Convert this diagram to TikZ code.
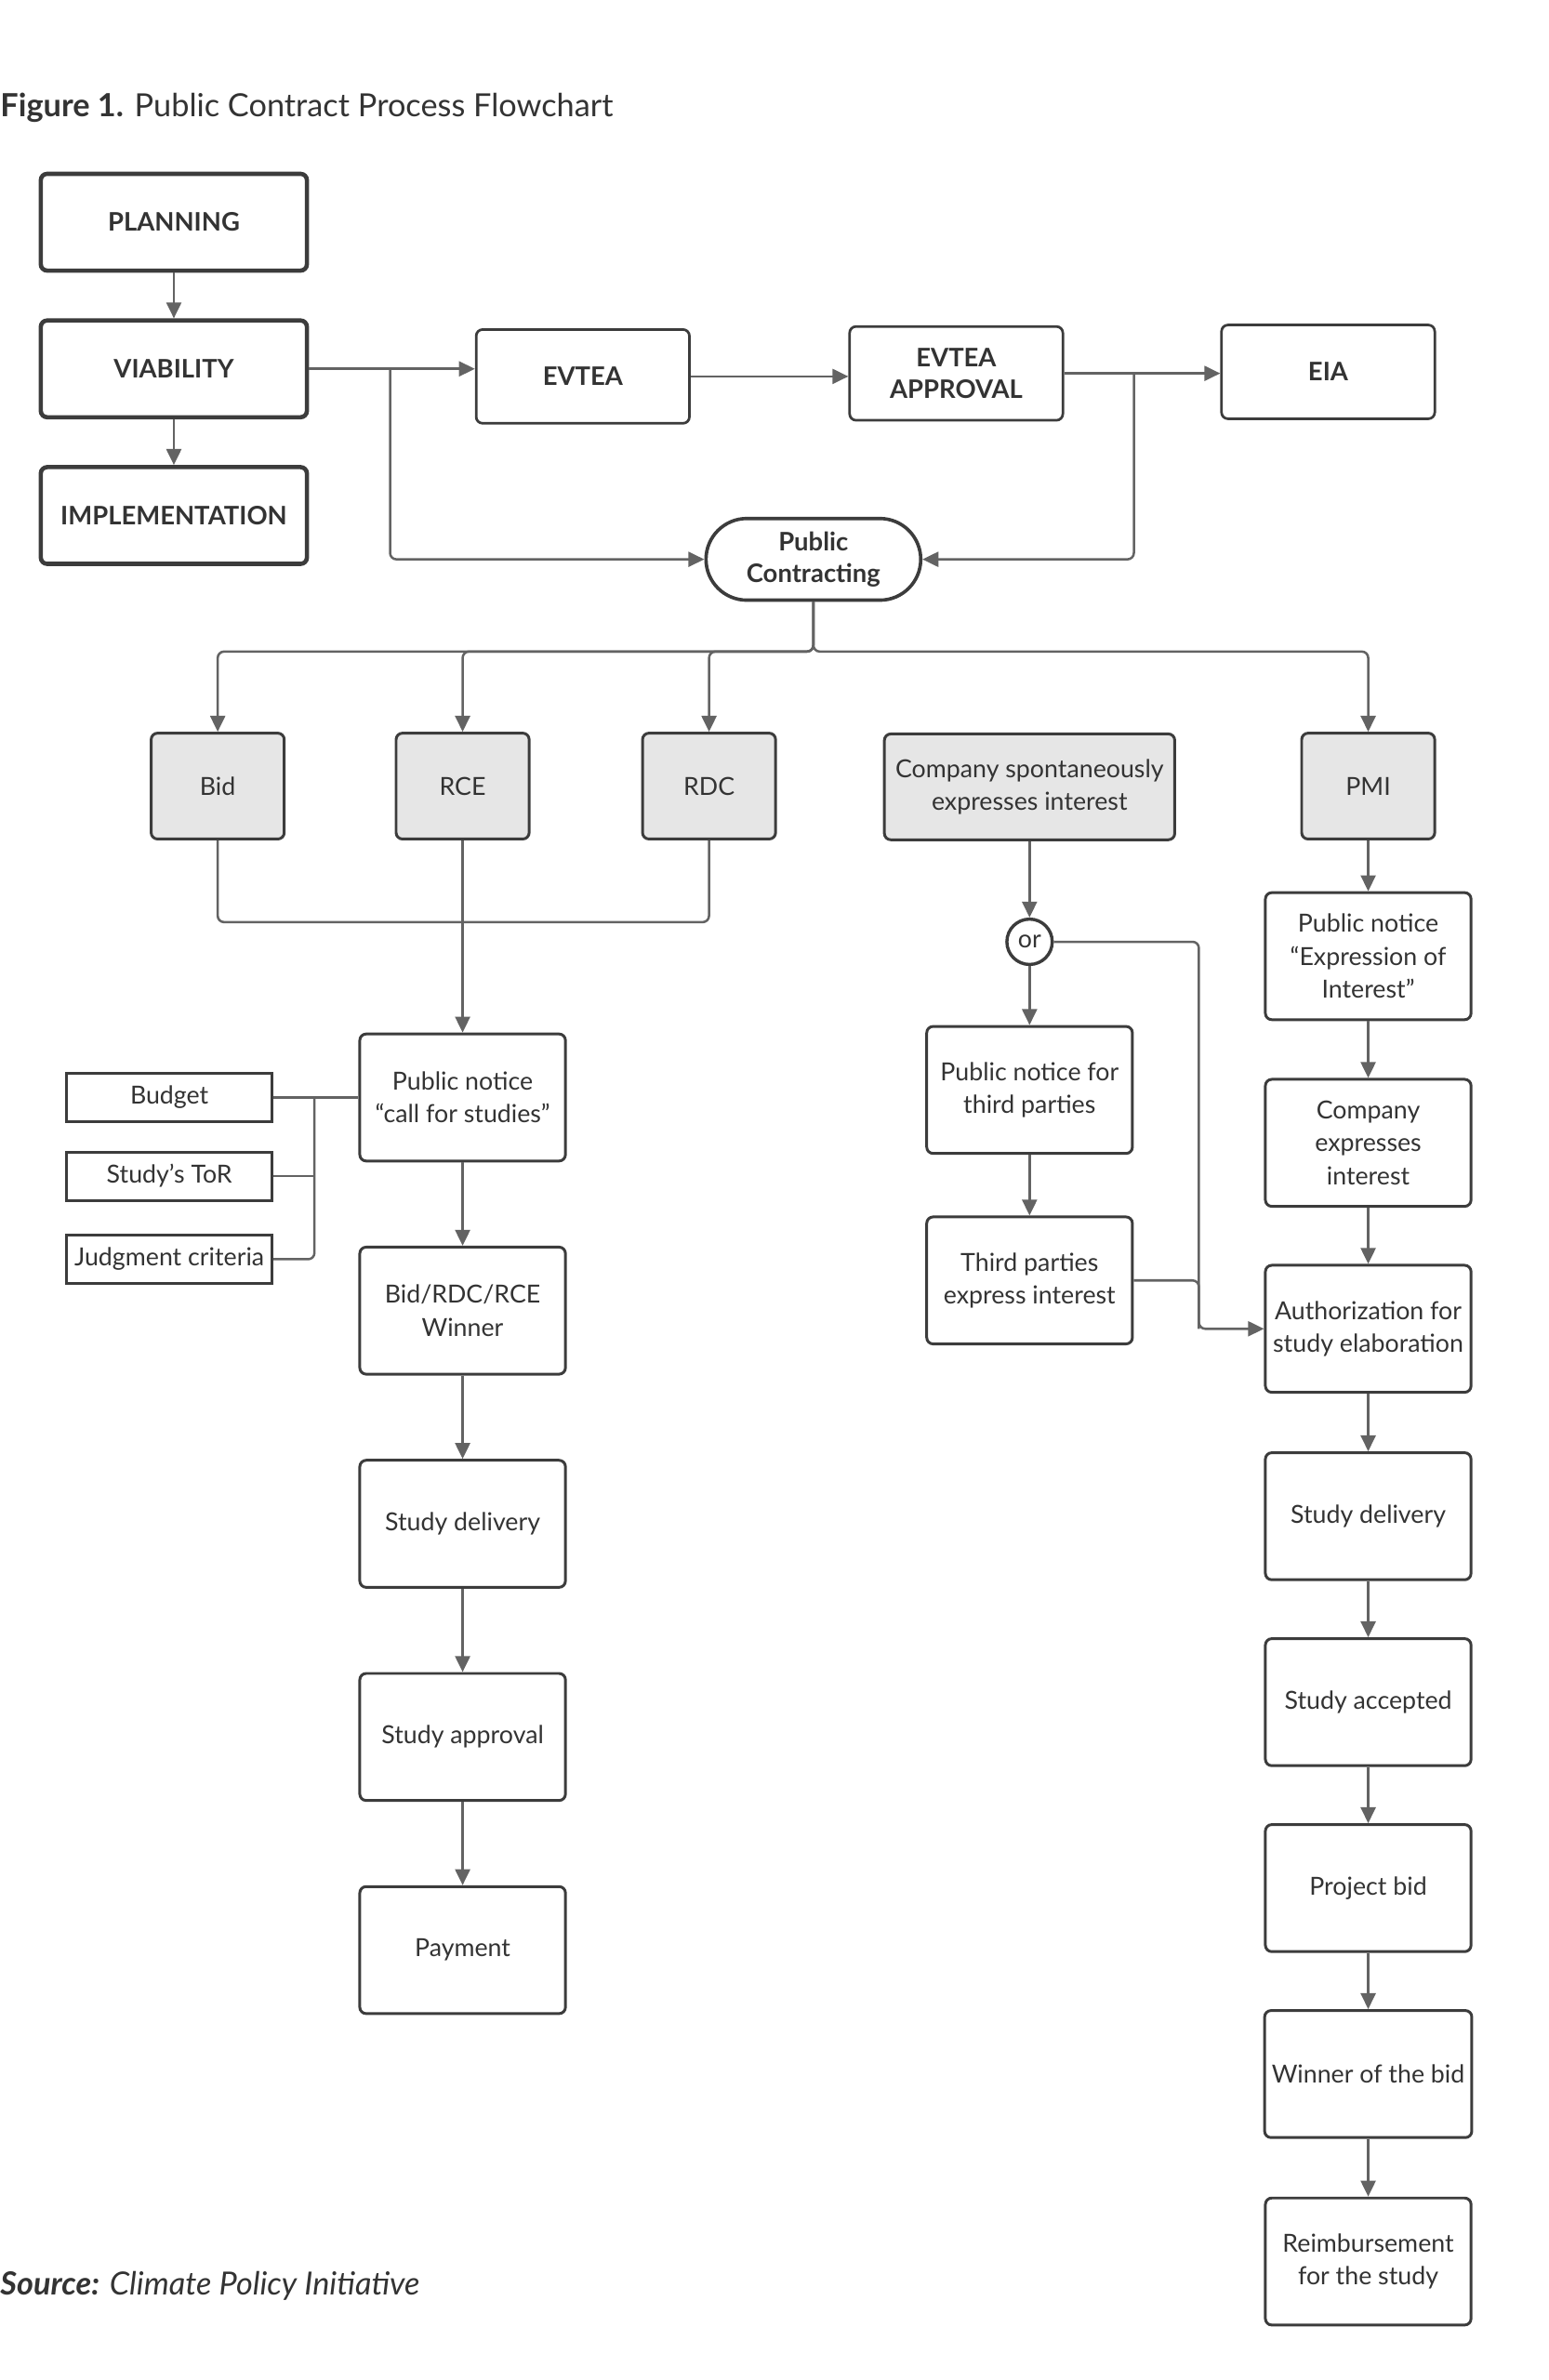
\documentclass[tikz,border=0pt]{standalone}
\usepackage{fontspec}
\setmainfont{Lato}
\usetikzlibrary{arrows.meta}
\definecolor{linegray}{HTML}{636363}
\definecolor{boxgray}{HTML}{3C3C3C}
\definecolor{fillgray}{HTML}{E6E6E6}
\definecolor{textgray}{HTML}{333333}

\begin{document}
\begin{tikzpicture}[x=0.025cm,y=-0.025cm,
  font=\fontsize{11.7}{15.5}\selectfont, text=textgray,
  phase/.style={draw=boxgray, line width=2pt, rounded corners=3pt, minimum width=4.4cm, minimum height=1.6cm, font=\fontsize{12}{15}\selectfont\bfseries},
  stage/.style={draw=boxgray, line width=1.2pt, rounded corners=3pt, minimum width=3.525cm, minimum height=1.55cm, align=center, font=\fontsize{12}{15}\selectfont\bfseries},
  route/.style={draw=boxgray, fill=fillgray, line width=1.3pt, rounded corners=3pt, minimum width=2.2cm, minimum height=1.75cm, align=center},
  stepbox/.style={draw=boxgray, line width=1.3pt, rounded corners=3pt, minimum width=3.4cm, minimum height=2.1cm, align=center},
  item/.style={draw=boxgray, line width=1.3pt, minimum width=3.4cm, minimum height=0.8cm},
  link/.style={draw=linegray, line width=1.1pt, rounded corners=3pt},
  arr/.style={link, -{Triangle[length=7.5pt,width=7pt]}}
]
\useasboundingbox (0,0) rectangle (1024,1574.4);
%\draw[step=1cm,gray,very thin] (0,0) grid (1024,1574);
\node[anchor=base west, inner sep=0, font=\fontsize{15}{18}\selectfont] (title) at (0,77) {\textbf{Figure 1.} Public Contract Process Flowchart};

% phases
\node[phase] (plan) at (115,147) {PLANNING};
\node[phase] (via) at (115,244) {VIABILITY};
\node[phase] (impl) at (115,341) {IMPLEMENTATION};
\node[stage] (evtea) at (385.5,249) {EVTEA};
\node[stage] (appr) at (632.5,247) {EVTEA\\APPROVAL};
\node[stage] (eia) at (878.5,246) {EIA};
\node[stage, line width=1.6pt, rounded corners=0.675cm, minimum width=3.55cm, minimum height=1.35cm] (pc) at (538,370) {Public\\Contracting};

% contracting routes
\node[route] (bid) at (144,520) {Bid};
\node[route] (rce) at (306,520) {RCE};
\node[route] (rdc) at (469,520) {RDC};
\node[route, minimum width=4.8cm] (spont) at (681,520.5) {Company spontaneously\\expresses interest};
\node[route] (pmi) at (905,520) {PMI};

% call for studies
\node[stepbox] (call) at (306,726) {Public notice\\“call for studies”};
\node[item] (budget) at (112,726) {Budget};
\node[item] (tor) at (112,778) {Study’s ToR};
\node[item] (crit) at (112,833) {Judgment criteria};
\node[stepbox] (win) at (306,867) {Bid/RDC/RCE\\Winner};
\node[stepbox] (deliv) at (306,1008) {Study delivery};
\node[stepbox] (approv) at (306,1149) {Study approval};
\node[stepbox] (pay) at (306,1290) {Payment};

% spontaneous interest
\node[circle, draw=boxgray, line width=1.5pt, minimum size=0.75cm, inner sep=0] (or) at (681,623) {or};
\node[stepbox] (third) at (681,721) {Public notice for\\third parties};
\node[stepbox] (tpint) at (681,847) {Third parties\\express interest};

% PMI
\node[stepbox] (eoi) at (905,632.5) {Public notice\\“Expression of\\Interest”};
\node[stepbox] (cexp) at (905,756) {Company\\expresses\\interest};
\node[stepbox] (auth) at (905,879) {Authorization for\\study elaboration};
\node[stepbox] (sdel) at (905,1003) {Study delivery};
\node[stepbox] (sacc) at (905,1126) {Study accepted};
\node[stepbox] (pbid) at (905,1249) {Project bid};
\node[stepbox] (wbid) at (905,1372) {Winner of the bid};
\node[stepbox] (reimb) at (905,1496) {Reimbursement\\for the study};

\node[anchor=base west, inner sep=0, font=\fontsize{15}{18}\selectfont\itshape] (src) at (0,1518) {\textbf{Source:} Climate Policy Initiative};

% connectors
\draw[arr] (plan) -- (via);
\draw[arr] (via) -- (impl);
\draw[arr] (via.east) -- (via.east -| evtea.west);
\draw[arr] (evtea.east) -- (evtea.east -| appr.west);
\draw[arr] (appr.east) -- (appr.east -| eia.west);
\coordinate (viasplit) at (258,244);
\coordinate (apprsplit) at (750,247);
\draw[arr] (viasplit) |- (pc.west);
\draw[arr] (apprsplit) |- (pc.east);

\coordinate (hub) at (538,431);
\draw[arr] (pc.south) -- (hub) -| (bid.north);
\draw[arr] (pc.south) -- (hub) -| (rce.north);
\draw[arr] (pc.south) -- (hub) -| (rdc.north);
\draw[arr] (pc.south) -- (hub) -| (pmi.north);

\coordinate (merge) at (306,610);
\draw[link] (bid.south) |- (merge);
\draw[link] (rdc.south) |- (merge);
\draw[arr] (rce.south) -- (call.north);

\coordinate (spine) at (208,726);
\draw[link] (budget.east) -- (call.west);
\draw[link] (spine) |- (crit.east);
\draw[link] (tor.east) -- (tor.east -| spine);

\draw[arr] (call) -- (win);
\draw[arr] (win) -- (deliv);
\draw[arr] (deliv) -- (approv);
\draw[arr] (approv) -- (pay);

\draw[arr] (spont) -- (or);
\draw[arr] (or) -- (third);
\draw[arr] (third) -- (tpint);
\coordinate (bend) at (793,879);
\draw[arr] (or.east) -| (bend) -- (auth.west);
\draw[link] (tpint.east) -| (bend);

\draw[arr] (pmi) -- (eoi);
\draw[arr] (eoi) -- (cexp);
\draw[arr] (cexp) -- (auth);
\draw[arr] (auth) -- (sdel);
\draw[arr] (sdel) -- (sacc);
\draw[arr] (sacc) -- (pbid);
\draw[arr] (pbid) -- (wbid);
\draw[arr] (wbid) -- (reimb);
\end{tikzpicture}
\end{document}
